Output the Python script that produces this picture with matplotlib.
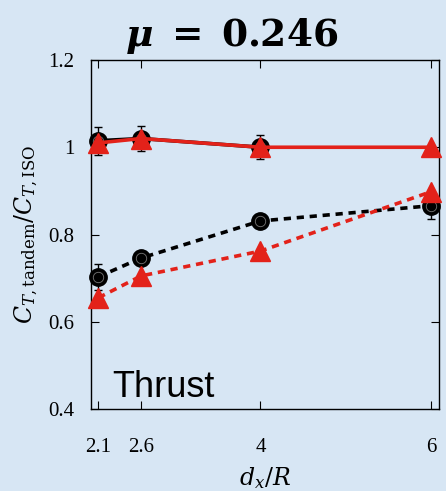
import matplotlib
matplotlib.use("Agg")
import matplotlib.pyplot as plt
import numpy as np

x = [2.1, 2.6, 4.0, 6.0]
black_solid = [1.015, 1.02, 1.0, np.nan]
black_solid_err = [0.032, 0.028, 0.028, 0.0]
red_solid = [1.01, 1.02, 1.0, 1.0]
black_dashed = [0.703, 0.746, 0.831, 0.866]
black_dashed_err = [0.03, 0.0, 0.0, 0.03]
red_dashed = [0.655, 0.705, 0.762, 0.898]
xticks = [2.1, 2.6, 4, 6]
xticklabels = ["2.1", "2.6", "4", "6"]
yticks = [0.4, 0.6, 0.8, 1.0, 1.2]
yticklabels = ["0.4", "0.6", "0.8", "1", "1.2"]

BG = "#D7E6F4"
RED = "#E3221A"

plt.rcParams['mathtext.fontset'] = 'dejavuserif'
fig = plt.figure(figsize=(4.46, 4.91), dpi=100, facecolor=BG)
ax = fig.add_axes([91/446, 1-409/491, 348/446, 349/491], facecolor=BG)

# black series
ax.errorbar(x, black_solid, yerr=black_solid_err, color="black", lw=2.6,
            marker="o", ms=12.5, mfc="black", mec="black", capsize=3, elinewidth=1,
            capthick=1, clip_on=False, zorder=3)
ax.errorbar(x, black_dashed, yerr=black_dashed_err, color="black", lw=2.6, ls=(0, (2, 1.6)),
            marker="o", ms=12.5, mfc="black", mec="black", capsize=3, elinewidth=1,
            capthick=1, clip_on=False, zorder=3)
for ys in (black_solid, black_dashed):
    ax.plot(x, ys, ls="none", marker="o", ms=7.5, mfc="none", mec="#777777", mew=0.6,
            clip_on=False, zorder=3.5)
# red series
ax.plot(x, red_solid, color=RED, lw=2.6, marker="^", ms=14, mfc=RED, mec=RED,
        clip_on=False, zorder=4)
ax.plot(x, red_dashed, color=RED, lw=2.6, ls=(0, (2, 1.6)), marker="^", ms=14,
        mfc=RED, mec=RED, clip_on=False, zorder=4)

ax.set_xlim(2.013, 6.094)
ax.set_ylim(0.4, 1.2)
ax.set_xticks(xticks)
ax.set_xticklabels(xticklabels, family="Liberation Serif", fontsize=15)
ax.set_yticks(yticks)
ax.set_yticklabels(yticklabels, family="Liberation Serif", fontsize=15)
ax.tick_params(direction="in", top=True, right=True, length=6, width=0.8)
ax.tick_params(axis="y", pad=12)
ax.tick_params(axis="x", pad=21)
for s in ax.spines.values():
    s.set_linewidth(1.0)

ax.set_ylabel(r"$C_{T,\mathrm{tandem}}/C_{T,\mathrm{ISO}}$", fontsize=17, labelpad=6)
ax.set_xlabel(r"$d_x/R$", fontsize=17, labelpad=6)

ax.text(112/446, 1-397/491, "Thrust", transform=fig.transFigure,
        family="Liberation Sans", fontsize=26, ha="left", va="baseline")
fig.text(232/446, 1-46/491, r"$\boldsymbol{\mu}\ \mathbf{=\ 0.246}$", fontsize=27,
         ha="center", va="baseline")

fig.savefig("out.png", dpi=100, facecolor=BG)
